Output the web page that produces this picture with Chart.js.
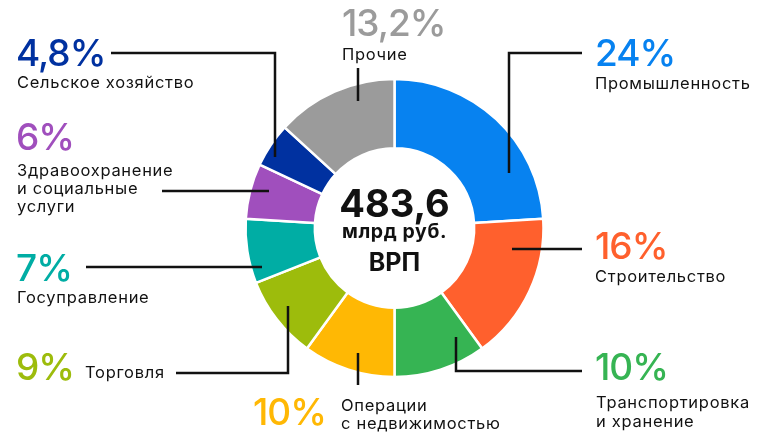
<!DOCTYPE html>
<html>
<head>
<meta charset="utf-8">
<script src="https://cdn.jsdelivr.net/npm/chart.js@4.4.1/dist/chart.umd.min.js"></script>
<style>
  html, body { margin: 0; padding: 0; background: #fff; }
  #wrap { width: 760px; height: 432px; position: relative; }
</style>
</head>
<body>
<div id="wrap"><canvas id="grp" width="760" height="432"></canvas></div>
<script>
// Sectors of GRP, clockwise from the top
const sectors = ['Промышленность', 'Строительство', 'Транспортировка и хранение', 'Операции с недвижимостью',
    'Торговля', 'Госуправление', 'Здравоохранение и социальные услуги', 'Сельское хозяйство', 'Прочие']
const shares = [24, 16, 10, 10, 9, 7, 6, 4.8, 13.2]
const shareLabels = ['24%', '16%', '10%', '10%', '9%', '7%', '6%', '4,8%', '13,2%']
const colors = ['#0782f0', '#ff602d', '#36b453', '#ffb804', '#9dbc0c', '#00ada4', '#a04fbd', '#0031a0', '#9b9b9b']
const centerLines = ['483,6', 'млрд руб.', 'ВРП']

// callout layout: leader polyline, percent position, caption lines
const callouts = [
    { line: [[509, 173], [509, 53], [582, 53]], pct: [595, 66], text: [[595, 89]], caption: ['Промышленность'] },
    { line: [[512, 249], [582, 249]], pct: [595, 259], text: [[595, 282]], caption: ['Строительство'] },
    { line: [[456, 337], [456, 371], [582, 371]], pct: [595, 380], text: [[596, 408], [596, 427]], caption: ['Транспортировка', 'и хранение'] },
    { line: [[358, 353], [358, 385]], pct: [253, 425], text: [[341, 411], [341, 429]], caption: ['Операции', 'с недвижимостью'] },
    { line: [[288, 306], [288, 373], [176, 373]], pct: [16, 380], text: [[85, 378]], caption: ['Торговля'] },
    { line: [[262, 267], [86, 267]], pct: [16, 281], text: [[17, 303]], caption: ['Госуправление'] },
    { line: [[269, 191], [162, 191]], pct: [16, 150], text: [[17, 176], [17, 194], [17, 212]], caption: ['Здравоохранение', 'и социальные', 'услуги'] },
    { line: [[275, 157], [275, 53], [111, 53]], pct: [16, 66], text: [[17, 88]], caption: ['Сельское хозяйство'] },
    { line: [[358, 101], [358, 68]], pct: [342, 36], text: [[342, 60]], caption: ['Прочие'] }
]

const FONT = 'Inter, "Noto Sans", sans-serif'

const calloutPlugin = {
    id: 'callouts',
    afterDraw(chart) {
        const ctx = chart.ctx
        const arc = chart.getDatasetMeta(0).data[0]
        ctx.save()
        // leader lines
        ctx.strokeStyle = '#111'
        ctx.lineWidth = 2.5
        ctx.lineJoin = 'miter'
        callouts.forEach(c => {
            ctx.beginPath()
            c.line.forEach(([x, y], i) => i ? ctx.lineTo(x, y) : ctx.moveTo(x, y))
            ctx.stroke()
        })
        // percents and captions
        ctx.textBaseline = 'alphabetic'
        ctx.textAlign = 'left'
        callouts.forEach((c, i) => {
            ctx.fillStyle = colors[i]
            ctx.font = '500 37px ' + FONT
            ctx.letterSpacing = '-1px'
            ctx.fillText(shareLabels[i], c.pct[0], c.pct[1])
            ctx.fillStyle = '#111'
            ctx.font = '400 16.5px ' + FONT
            ctx.letterSpacing = '0.7px'
            c.caption.forEach((t, k) => ctx.fillText(t, c.text[k][0], c.text[k][1]))
        })
        // center text
        ctx.textAlign = 'center'
        ctx.fillStyle = '#111'
        ctx.letterSpacing = '0px'
        ctx.font = '700 38px ' + FONT
        ctx.fillText(centerLines[0], arc.x, arc.y - 11)
        ctx.letterSpacing = '0.6px'
        ctx.font = '700 19.5px ' + FONT
        ctx.fillText(centerLines[1], arc.x, arc.y + 10)
        ctx.letterSpacing = '0px'
        ctx.font = '700 25px ' + FONT
        ctx.fillText(centerLines[2], arc.x, arc.y + 43)
        ctx.restore()
    }
}

new Chart(document.getElementById('grp'), {
    type: 'doughnut',
    data: {
        labels: sectors,
        datasets: [{
            data: shares,
            backgroundColor: colors,
            borderColor: '#fff',
            borderWidth: 2.5,
            hoverOffset: 0
        }]
    },
    options: {
        responsive: false,
        animation: false,
        radius: 149,
        cutout: '53.5%',
        layout: { padding: { left: 247, right: 218, top: 80, bottom: 56 } },
        plugins: { legend: { display: false }, tooltip: { enabled: false } },
        events: []
    },
    plugins: [calloutPlugin]
})
</script>
</body>
</html>
